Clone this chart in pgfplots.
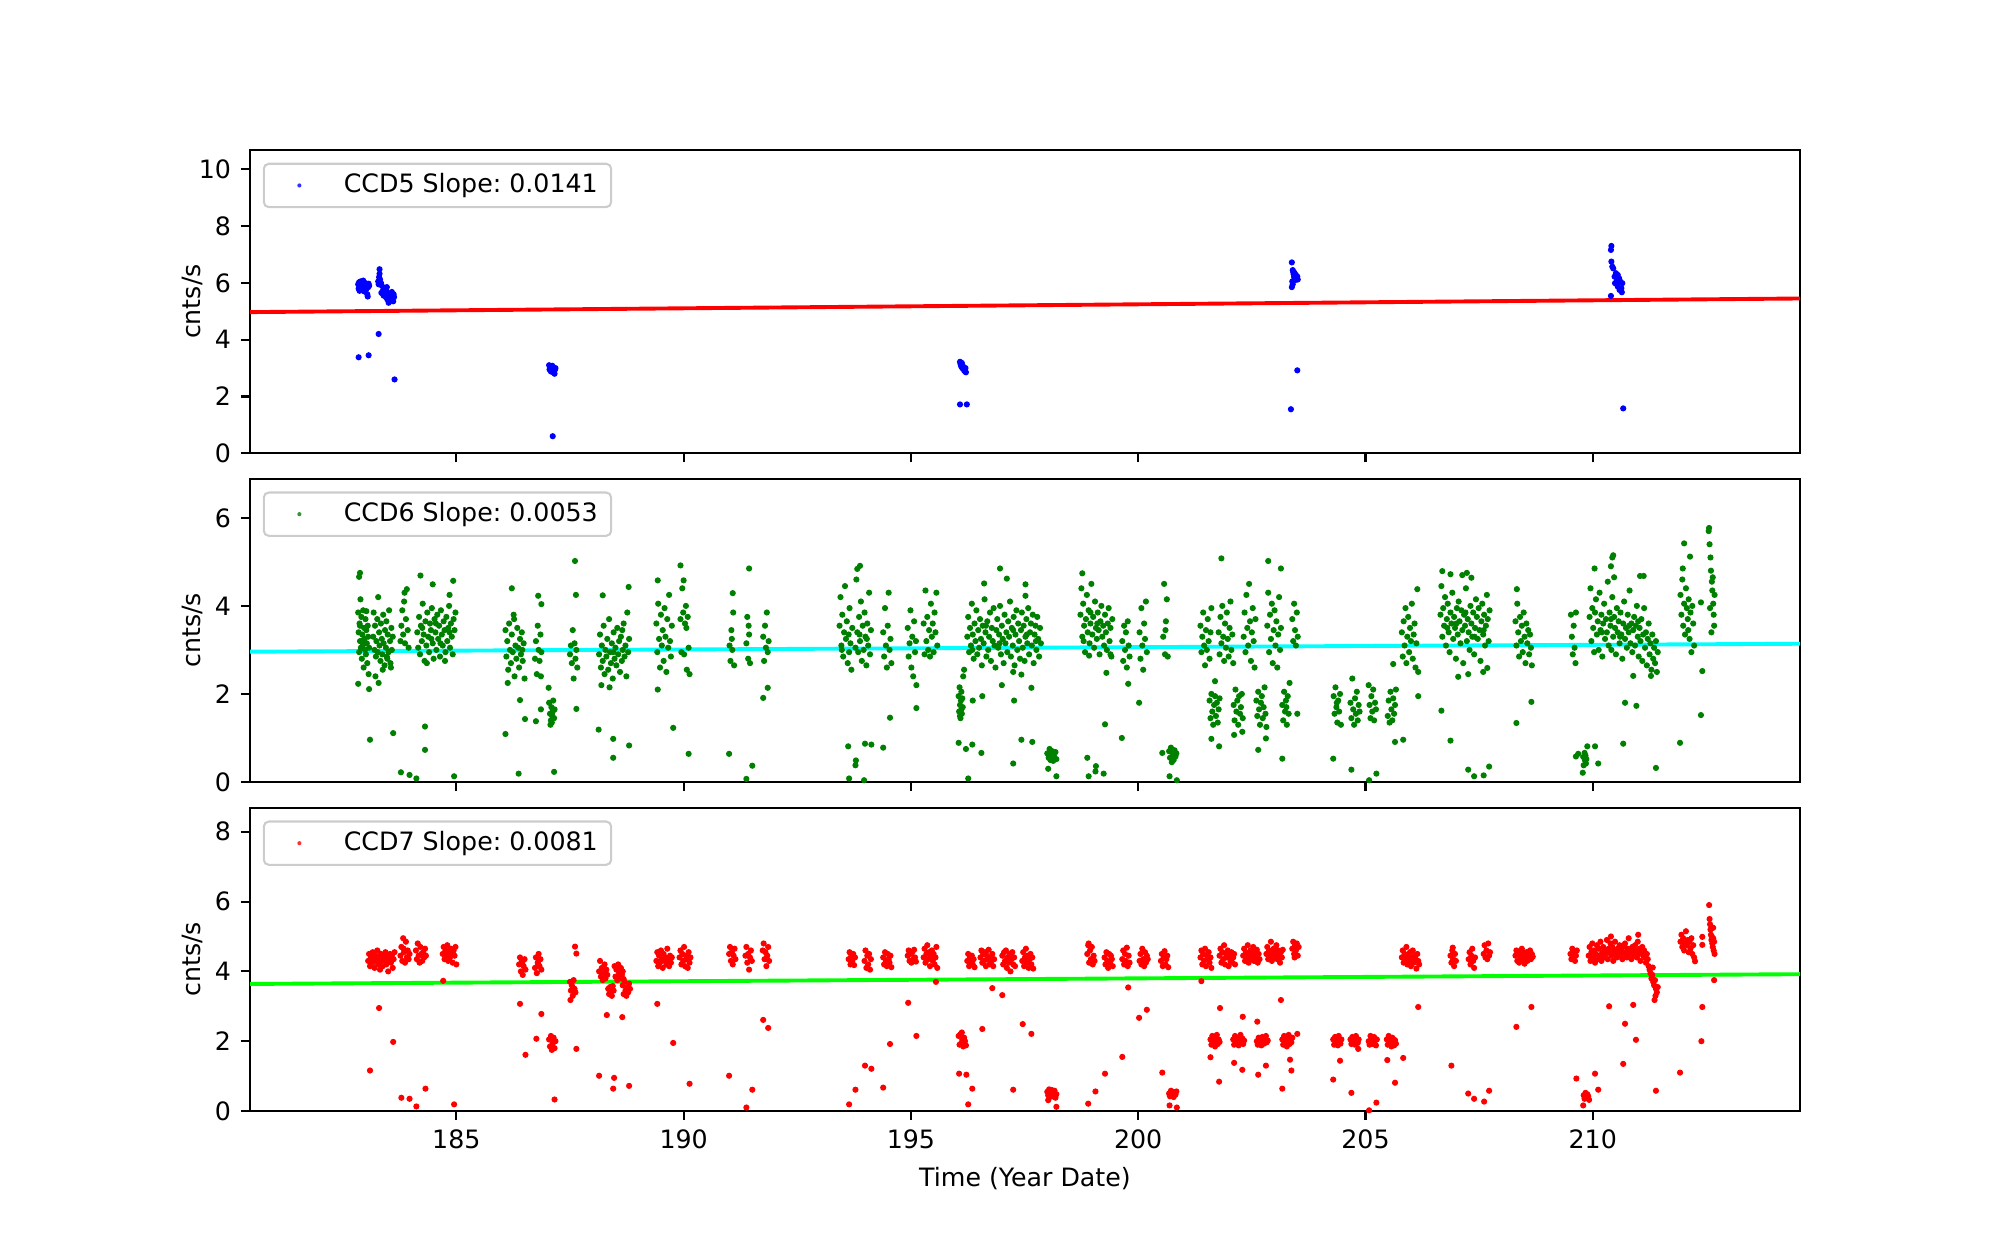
\documentclass[border=0pt]{standalone}
\usepackage{fontspec}
\setmainfont{DejaVu Sans}
\usepackage{pgfplots}
\pgfplotsset{compat=1.18}
\definecolor{mplgreen}{rgb}{0,0.5,0}
\definecolor{mplblue}{rgb}{0,0,1}
\definecolor{mplred}{rgb}{1,0,0}
\definecolor{mplcyan}{rgb}{0,1,1}
\definecolor{mpllime}{rgb}{0,1,0}
\definecolor{legedge}{rgb}{0.8,0.8,0.8}
\pgfplotsset{
  ccd/.style={
    scale only axis, width=558bp, height=109.19bp,
    xmin=180.46, xmax=214.56, ymin=0,
    xtick={185,190,195,200,205,210},
    tick align=outside, xtick pos=bottom, ytick pos=left,
    major tick length=3.3bp,
    every tick/.style={black, line width=0.75bp},
    axis line style={line width=0.75bp},
    ylabel={cnts/s},
    ylabel style={at={(axis description cs:-0.0368,0.5)}, anchor=center},
    /pgf/number format/assume math mode=true,
    tick label style={font=\fontsize{9.1bp}{11bp}\selectfont},
    label style={font=\fontsize{9.1bp}{11bp}\selectfont},
    legend style={at={(axis description cs:0,1)}, anchor=north west, xshift=4.6bp, yshift=-4.6bp,
      draw=legedge, line width=0.75bp, rounded corners=1.8bp, fill=white, fill opacity=0.8, text opacity=1,
      inner xsep=0pt, inner ysep=0pt, nodes={inner sep=0pt}, column sep=0pt,
      font=\fontsize{9.1bp}{11bp}\selectfont},
    legend image code/.code={\path[draw=none,fill=none] (0,-7.8bp) rectangle (28.8bp,7.8bp); \fill[draw=none] (12.8bp,0) circle (0.75bp);},
    legend cell align=left,
  },
  pts/.style={only marks, mark=*, mark size=0.9bp, mark options={draw=none}},
}
\begin{document}
\frenchspacing
\begin{tikzpicture}
\path[use as bounding box] (0,0) rectangle (720bp,449.28bp);
% ---------------- CCD5 ----------------
\begin{axis}[ccd, at={(90bp,286.1bp)}, anchor=south west, ymax=10.68, ytick={0,2,4,6,8,10}, xticklabels={}]
\addplot[pts, color=mplblue] coordinates {
(182.84,5.95)(182.85,5.80)(182.86,6.02)(182.87,5.72)(182.88,5.90)(182.89,6.05)(182.90,5.85)(182.91,5.98)(182.92,5.76)(182.93,5.92)(182.95,6.08)(182.96,5.83)(182.97,5.70)(182.98,5.95)(182.99,6.00)(183.00,5.88)(183.02,5.78)(183.03,5.93)(183.04,5.60)(183.05,5.52)(183.06,5.85)(183.07,5.97)(183.08,5.90)(182.85,3.38)(183.07,3.45)
(183.28,6.05)(183.29,5.95)(183.30,6.20)(183.31,6.48)(183.31,6.32)(183.32,6.12)(183.33,5.98)(183.34,6.00)(183.35,5.65)(183.36,5.90)(183.38,5.62)(183.39,5.75)(183.40,5.55)(183.42,5.70)(183.43,5.60)(183.45,5.50)(183.46,5.72)(183.47,5.85)(183.48,5.42)(183.50,5.58)(183.51,5.30)(183.52,5.48)(183.53,5.62)(183.55,5.38)(183.57,5.55)(183.58,5.68)(183.60,5.45)(183.61,5.35)(183.62,5.60)(183.63,5.50)(183.29,4.20)(183.64,2.60)
(187.04,3.10)(187.05,2.95)(187.07,3.05)(187.08,2.88)(187.09,3.00)(187.10,2.92)(187.11,3.08)(187.12,2.97)(187.13,2.85)(187.14,3.02)(187.15,2.90)(187.16,2.80)(187.17,2.95)(187.18,3.00)(187.12,0.60)
(196.08,3.22)(196.09,3.15)(196.10,3.10)(196.11,3.05)(196.12,3.18)(196.13,3.00)(196.14,3.08)(196.15,2.98)(196.16,3.02)(196.17,2.92)(196.18,2.95)(196.19,2.88)(196.20,3.00)(196.21,2.85)(196.08,1.72)(196.23,1.72)
(203.38,6.72)(203.40,6.45)(203.41,6.38)(203.42,6.30)(203.43,6.20)(203.44,6.35)(203.45,6.25)(203.46,6.10)(203.47,6.28)(203.48,6.15)(203.39,6.05)(203.40,5.95)(203.38,5.85)(203.50,6.22)(203.51,6.12)(203.50,2.92)(203.36,1.55)
(210.41,7.30)(210.40,7.16)(210.41,6.75)(210.43,6.57)(210.45,6.51)(210.51,6.34)(210.55,6.28)(210.48,6.22)(210.58,6.16)(210.53,6.10)(210.61,6.04)(210.49,5.99)(210.65,5.99)(210.55,5.87)(210.63,5.81)(210.59,5.75)(210.64,5.67)(210.40,5.54)(210.67,1.58)
};
\addlegendentry{CCD5 Slope: 0.0141\kern4.8bp}
\addplot[mplred, line width=1.4bp, forget plot] coordinates {(180.46,4.97) (214.56,5.45)};
\end{axis}
% ---------------- CCD6 ----------------
\begin{axis}[ccd, at={(90bp,167.76bp)}, anchor=south west, ymax=6.89, ytick={0,2,4,6}, xticklabels={}]
\addplot[pts, color=mplgreen] coordinates {
(182.84,3.85)(182.85,3.40)(182.86,2.95)(182.87,3.60)(182.88,3.20)(182.89,4.15)(182.90,3.05)(182.91,3.75)(182.92,2.80)(182.93,3.35)(182.94,3.10)(182.95,3.90)(182.96,2.60)(182.97,3.50)(182.98,3.25)(182.99,3.00)(183.00,3.70)(183.01,2.90)(183.02,3.45)(183.03,3.15)(183.04,2.70)(183.05,3.55)(183.06,3.30)(183.07,2.45)(183.08,3.05)(182.88,3.55)(182.95,3.22)(183.02,3.88)
(182.84,2.23)(183.08,2.11)(183.10,0.96)(182.86,4.66)(182.88,4.75)
(183.17,3.30)(183.18,3.85)(183.20,3.00)(183.21,3.55)(183.23,2.85)(183.24,3.20)(183.26,3.70)(183.27,2.95)(183.28,4.20)(183.30,3.40)(183.31,3.10)(183.33,2.75)(183.34,3.60)(183.36,3.25)(183.37,2.90)(183.39,3.80)(183.40,3.15)(183.42,2.65)(183.43,3.45)(183.45,3.05)(183.46,3.65)(183.48,2.80)(183.49,3.35)(183.51,2.95)(183.52,3.90)(183.54,3.20)(183.55,2.70)(183.57,3.50)(183.58,3.00)(183.60,3.30)(183.22,2.40)(183.29,2.25)(183.38,2.55)(183.47,2.85)(183.56,2.60)(183.61,1.11)
(183.77,3.20)(183.79,3.55)(183.81,3.90)(183.83,3.35)(183.85,4.10)(183.87,3.15)(183.89,3.70)(183.91,4.38)(183.93,3.45)(183.95,3.05)(183.86,4.30)
(184.14,3.40)(184.16,3.05)(184.18,3.75)(184.20,2.90)(184.22,3.55)(184.24,3.20)(184.26,4.05)(184.28,3.35)(184.30,2.75)(184.32,3.65)(184.34,3.10)(184.36,3.85)(184.38,3.30)(184.40,2.95)(184.42,3.60)(184.44,3.45)(184.46,3.95)(184.48,3.15)(184.50,2.80)(184.52,3.70)(184.54,3.40)(184.56,3.00)(184.58,3.80)(184.60,3.25)(184.62,3.55)(184.64,2.85)(184.66,3.90)(184.68,3.35)(184.70,3.10)(184.72,3.65)(184.74,3.45)(184.76,2.95)(184.78,3.75)(184.80,3.20)(184.82,3.50)(184.84,4.00)(184.86,3.05)(184.88,3.60)(184.90,3.30)(184.92,2.90)(184.94,3.70)(184.96,3.45)(184.98,3.85)(184.25,3.50)(184.45,3.25)(184.65,3.15)(184.85,3.40)(184.55,3.60)(184.35,2.70)(184.75,2.75)
(184.21,4.69)(184.48,4.49)(184.85,4.25)(184.93,4.57)(184.31,1.26)(184.31,0.73)(183.78,0.22)(183.97,0.16)(184.12,0.08)(184.95,0.13)
(186.08,3.45)(186.10,2.85)(186.12,3.20)(186.14,2.55)(186.16,3.60)(186.18,3.00)(186.20,2.70)(186.22,3.35)(186.24,2.95)(186.26,3.80)(186.28,2.40)(186.30,3.10)(186.32,2.80)(186.34,3.50)(186.36,3.05)(186.38,2.60)(186.40,3.25)(186.42,2.90)(186.44,3.40)(186.46,2.75)(186.48,3.15)(186.50,2.35)(186.13,2.25)(186.27,3.70)(186.45,3.00)
(186.22,4.40)(186.40,1.86)(186.51,1.43)(186.08,1.09)(186.37,0.19)
(186.73,2.80)(186.75,3.20)(186.77,2.45)(186.79,3.55)(186.81,3.00)(186.83,2.75)(186.85,3.35)(186.87,2.95)(186.80,4.23)(186.87,4.04)(186.86,2.40)
(187.04,1.80)(187.06,1.55)(187.08,1.40)(187.09,1.70)(187.10,1.35)(187.12,1.60)(187.13,1.85)(187.15,1.45)(187.16,1.65)(187.11,1.50)(187.07,1.30)
(187.03,2.14)(186.86,1.65)(186.75,1.38)(187.15,0.23)
(187.50,2.90)(187.52,3.10)(187.54,2.70)(187.56,3.45)(187.58,2.35)(187.60,3.15)(187.62,2.80)(187.64,3.00)(187.66,2.60)(187.61,5.02)(187.63,4.25)(187.64,1.66)
(188.14,2.90)(188.16,3.35)(188.18,2.60)(188.20,3.10)(188.22,2.75)(188.24,3.55)(188.26,2.45)(188.28,3.00)(188.30,2.85)(188.32,3.25)(188.34,2.55)(188.36,3.70)(188.38,2.95)(188.40,2.70)(188.42,3.15)(188.44,2.35)(188.46,3.40)(188.48,2.80)(188.50,3.05)(188.52,2.65)(188.54,3.50)(188.56,2.90)(188.58,3.20)(188.60,2.50)(188.62,3.30)(188.64,2.75)(188.66,3.00)(188.68,3.60)(188.70,2.85)(188.72,3.10)(188.74,2.40)(188.76,3.85)(188.78,2.95)(188.80,3.25)(188.19,2.20)(188.45,2.95)(188.65,3.45)
(188.22,4.24)(188.79,4.43)(188.13,1.19)(188.45,0.98)(188.45,0.55)(188.80,0.83)(188.37,2.15)
(189.40,3.60)(189.42,2.95)(189.44,4.05)(189.46,3.25)(189.48,2.60)(189.50,3.80)(189.52,3.10)(189.54,3.45)(189.56,2.75)(189.58,3.95)(189.60,3.30)(189.62,2.50)(189.64,3.70)(189.66,3.05)(189.68,4.25)(189.70,3.20)(189.72,2.85)(189.74,3.55)(189.43,4.58)(189.43,2.10)(189.77,1.23)
(189.93,3.70)(189.95,2.95)(189.97,4.40)(189.99,3.85)(190.01,2.90)(190.03,3.60)(190.05,4.00)(190.07,2.55)(190.09,3.75)(190.11,3.05)(190.13,2.45)(190.00,4.58)(190.06,3.50)(189.93,4.92)(190.11,0.64)
(191.01,3.10)(191.03,2.75)(191.05,3.45)(191.07,3.00)(191.09,3.85)(191.11,2.65)(191.06,3.25)(191.08,4.29)(191.00,0.64)
(191.38,3.15)(191.40,3.75)(191.42,2.80)(191.44,3.35)(191.46,2.70)(191.43,3.55)(191.44,4.85)(191.38,0.07)(191.51,0.37)
(191.75,3.30)(191.77,2.75)(191.79,3.55)(191.81,3.05)(191.83,3.85)(191.85,2.95)(191.87,3.20)(191.75,1.91)(191.85,2.14)
(193.43,3.55)(193.45,4.20)(193.47,3.10)(193.49,3.80)(193.51,2.85)(193.53,3.40)(193.55,4.45)(193.57,3.25)(193.59,3.65)(193.61,2.70)(193.63,3.35)(193.65,3.95)(193.67,3.15)(193.69,2.55)(193.71,3.50)(193.78,3.05)(193.80,4.60)(193.82,3.40)(193.84,2.95)(193.86,3.75)(193.88,3.20)(193.90,4.10)(193.92,2.75)(193.94,3.55)(193.96,3.00)(193.98,3.85)(194.00,3.30)(194.02,2.65)(194.04,3.60)(194.06,3.10)(194.08,4.30)(194.10,2.90)(194.12,3.45)(193.48,3.00)(193.64,2.95)(193.87,3.35)(194.03,3.25)
(193.82,4.84)(193.88,4.91)(193.62,0.81)(193.79,0.49)(193.78,0.38)(193.99,0.87)(194.13,0.85)(193.64,0.08)(193.97,0.04)(194.39,0.78)
(194.39,3.40)(194.41,2.85)(194.43,3.95)(194.45,3.10)(194.47,2.60)(194.49,3.55)(194.51,4.30)(194.53,3.00)(194.55,3.25)(194.57,2.70)(194.54,1.46)
(194.93,3.50)(194.95,2.85)(194.97,3.15)(194.99,3.90)(195.01,2.60)(195.03,3.30)(195.05,2.40)(195.07,3.65)(195.09,2.95)(195.11,3.20)(195.12,2.20)(195.12,1.68)
(195.28,3.60)(195.30,2.90)(195.32,4.35)(195.34,3.20)(195.36,3.75)(195.38,3.00)(195.40,3.45)(195.42,2.85)(195.44,4.05)(195.46,3.30)(195.48,3.60)(195.50,2.95)(195.52,3.85)(195.54,3.40)(195.56,4.30)(195.58,3.10)
(196.05,1.95)(196.06,1.60)(196.07,2.15)(196.08,1.75)(196.09,1.45)(196.10,1.85)(196.11,2.05)(196.12,1.55)(196.13,1.90)(196.14,1.70)(196.15,2.40)(196.17,2.55)(196.08,1.50)(196.11,1.65)
(196.05,0.89)(196.21,0.75)(196.35,0.85)(196.26,0.08)(196.55,0.66)(196.36,1.85)(196.57,1.95)
(196.24,3.30)(196.26,3.75)(196.28,2.95)(196.30,3.50)(196.32,3.10)(196.34,4.05)(196.36,3.35)(196.38,2.80)(196.40,3.60)(196.42,3.20)(196.44,3.90)(196.46,2.90)(196.48,3.45)(196.50,3.05)(196.52,3.70)(196.54,3.25)(196.56,2.65)(196.58,3.55)(196.60,3.15)(196.62,4.15)(196.64,3.40)(196.66,2.85)(196.68,3.65)(196.70,3.00)(196.72,3.30)(196.74,3.85)(196.76,2.75)(196.78,3.50)(196.80,3.20)(196.82,3.95)(196.84,3.10)(196.86,2.60)(196.88,3.45)(196.90,3.70)(196.92,3.05)(196.94,3.35)(196.96,4.00)(196.98,2.90)(197.00,3.55)(197.02,3.25)(197.04,2.70)(197.06,3.80)(197.08,3.15)(197.10,3.40)(197.12,2.95)(197.14,3.65)(197.16,3.30)(197.18,4.10)(197.20,2.85)(197.22,3.50)(197.24,3.10)(197.26,3.75)(197.28,2.65)(197.30,3.35)(197.32,3.90)(197.34,3.00)(197.36,3.60)(197.38,3.20)(197.40,2.80)(197.42,3.45)(197.44,3.85)(197.46,3.05)(197.48,3.55)(197.50,2.75)(197.52,3.30)(197.54,3.70)(197.56,3.15)(197.58,3.95)(197.60,2.90)(197.62,3.40)(197.64,3.60)(197.66,3.10)(197.68,3.80)(197.70,2.70)(197.72,3.35)(197.74,3.55)(197.76,3.00)(197.78,3.75)(197.80,3.25)(197.82,2.85)(197.84,3.50)(197.86,3.15)(196.35,3.00)(196.65,3.55)(196.95,3.15)(197.25,3.45)(197.55,3.35)(197.75,3.20)
(196.96,4.85)(197.11,4.62)(196.61,4.51)(197.52,4.49)(197.52,4.23)(197.00,2.20)(197.25,2.50)(197.43,2.44)(197.27,1.85)(197.65,2.14)(197.43,0.96)(197.67,0.91)(197.25,0.42)
(198.00,0.65)(198.03,0.55)(198.05,0.75)(198.07,0.50)(198.09,0.62)(198.11,0.70)(198.13,0.48)(198.15,0.58)(198.18,0.68)(198.20,0.52)(198.02,0.30)(198.20,0.13)
(198.73,3.80)(198.75,4.40)(198.77,3.30)(198.79,4.05)(198.81,3.55)(198.83,2.95)(198.85,3.70)(198.87,4.25)(198.89,3.40)(198.91,3.90)(198.93,3.15)(198.95,3.60)(198.97,4.50)(198.99,3.35)(199.01,3.75)(199.03,3.05)(199.05,4.10)(199.07,3.50)(199.09,3.25)(199.11,3.85)(199.13,3.45)(199.15,2.90)(199.17,3.65)(199.19,4.00)(199.21,3.30)(199.23,3.55)(199.25,3.10)(199.27,3.80)(199.29,3.40)(199.31,3.00)(199.33,3.60)(199.35,3.95)(199.37,3.20)(199.39,3.50)(199.41,2.85)(199.43,3.70)(198.80,3.20)(198.95,3.85)(199.10,3.60)
(198.77,4.74)(198.92,2.87)(199.39,2.90)(199.30,2.48)(199.27,1.31)(198.88,0.55)(198.91,0.13)(199.07,0.36)(199.24,0.19)(199.06,0.24)
(199.65,3.20)(199.67,2.75)(199.69,3.55)(199.71,3.00)(199.73,3.40)(199.75,2.60)(199.77,3.65)(199.79,3.10)(199.81,2.85)(199.78,2.23)(199.64,1.00)
(200.03,3.40)(200.05,2.80)(200.07,3.95)(200.09,3.10)(200.11,2.55)(200.13,3.60)(200.15,3.25)(200.17,4.10)(200.19,2.95)(200.02,1.80)
(200.55,3.30)(200.57,4.50)(200.59,2.90)(200.61,3.65)(200.63,4.15)(200.65,2.85)(200.60,3.45)
(200.68,0.70)(200.70,0.55)(200.72,0.78)(200.74,0.45)(200.76,0.62)(200.78,0.50)(200.80,0.72)(200.82,0.58)(200.84,0.65)(200.53,0.66)(200.69,0.13)(200.85,0.04)
(201.37,3.55)(201.39,2.95)(201.41,3.30)(201.43,3.85)(201.45,3.10)(201.47,2.65)(201.49,3.45)(201.51,3.00)(201.53,3.70)(201.55,3.20)(201.57,2.80)(201.59,3.40)(201.61,3.95)
(201.57,1.85)(201.59,1.45)(201.61,2.00)(201.63,1.60)(201.65,1.30)(201.67,1.75)(201.69,1.95)(201.71,1.50)(201.73,1.80)(201.75,1.35)(201.77,1.65)(201.79,1.90)(201.69,2.29)(201.61,0.98)(201.78,0.81)
(201.77,3.40)(201.79,2.90)(201.81,3.75)(201.83,3.15)(201.85,4.00)(201.87,3.30)(201.89,2.75)(201.91,3.60)(201.93,3.05)(201.95,3.85)(201.97,3.25)(201.99,2.85)(202.01,3.50)(202.03,4.10)(202.05,3.00)(202.07,3.35)(202.09,2.70)(201.83,5.08)
(202.10,1.75)(202.12,1.40)(202.14,2.10)(202.16,1.60)(202.18,1.85)(202.20,1.30)(202.22,1.95)(202.24,1.55)(202.26,1.70)(202.28,2.00)(202.30,1.45)(202.11,1.07)(202.29,1.14)
(202.32,3.30)(202.34,3.85)(202.36,2.95)(202.38,4.25)(202.40,3.50)(202.42,3.10)(202.44,4.50)(202.46,3.65)(202.48,2.75)(202.50,3.40)(202.52,3.95)(202.54,3.20)(202.56,2.60)(202.58,3.70)
(202.60,1.85)(202.62,1.50)(202.64,2.05)(202.66,1.65)(202.68,1.30)(202.70,1.80)(202.72,1.95)(202.74,1.45)(202.76,1.70)(202.78,2.15)(202.80,1.55)(202.82,1.25)(202.64,0.73)(202.81,0.99)
(202.84,3.55)(202.86,4.30)(202.88,2.95)(202.90,3.80)(202.92,3.25)(202.94,4.05)(202.96,2.70)(202.98,3.45)(203.00,3.90)(203.02,3.10)(203.04,3.65)(203.06,2.60)(203.08,3.35)(203.10,4.20)(203.12,3.00)(203.14,3.50)(202.86,5.02)(203.14,4.85)
(203.17,1.75)(203.19,1.40)(203.21,2.05)(203.23,1.60)(203.25,1.85)(203.27,1.30)(203.29,1.95)(203.31,1.55)(203.33,2.25)(203.26,1.70)(203.17,0.53)
(203.39,3.70)(203.41,3.20)(203.43,4.05)(203.45,3.45)(203.47,3.10)(203.49,3.85)(203.51,3.30)(203.50,1.55)
(204.30,1.95)(204.32,1.55)(204.34,2.15)(204.36,1.70)(204.38,1.35)(204.40,1.85)(204.42,1.60)(204.44,2.00)(204.46,1.30)(204.37,1.80)(204.29,0.53)
(204.67,1.80)(204.69,1.45)(204.71,2.35)(204.73,1.65)(204.75,1.30)(204.77,1.90)(204.79,1.55)(204.81,2.05)(204.83,1.40)(204.85,1.75)(204.87,1.60)(204.69,0.28)
(205.07,2.20)(205.09,1.75)(205.11,1.45)(205.13,1.95)(205.15,1.60)(205.17,2.10)(205.19,1.40)(205.21,1.80)(205.23,1.65)(205.08,0.04)(205.24,0.19)
(205.49,1.50)(205.51,1.85)(205.53,1.35)(205.55,2.05)(205.57,1.65)(205.59,1.40)(205.61,1.90)(205.63,1.55)(205.65,1.75)(205.67,2.10)(205.65,0.91)(205.83,0.96)
(205.80,3.40)(205.82,2.85)(205.84,3.65)(205.86,3.10)(205.88,3.95)(205.90,2.70)(205.92,3.30)(205.94,3.75)(205.96,2.95)(205.98,3.50)(206.00,3.20)(206.02,4.05)(206.04,2.80)(206.06,3.35)(206.08,3.60)(206.10,2.60)(206.12,3.15)(206.14,4.38)(206.16,2.50)(205.61,2.68)(206.16,1.95)
(206.65,3.80)(206.67,4.45)(206.69,3.30)(206.71,3.95)(206.73,3.55)(206.75,4.20)(206.77,3.10)(206.79,3.70)(206.81,4.05)(206.83,3.40)(206.85,2.95)(206.87,3.85)(206.89,3.60)(206.91,4.30)(206.93,3.25)(206.95,3.75)(206.97,3.50)(206.99,2.80)(207.01,3.95)(207.03,3.35)(207.05,4.10)(207.07,3.65)(207.09,3.15)(207.11,3.90)(207.13,3.45)(207.15,2.70)(207.17,3.80)(207.19,3.55)(207.21,4.40)(207.23,3.20)(207.25,3.70)(207.27,3.40)(207.29,3.00)(207.31,4.00)(207.33,3.60)(207.35,3.30)(207.37,3.85)(207.39,2.90)(207.41,3.50)(207.43,4.15)(207.45,3.75)(207.47,3.25)(207.49,3.95)(207.51,3.45)(207.53,2.75)(207.55,3.65)(207.57,4.05)(207.59,3.35)(207.61,3.80)(207.63,3.10)(207.65,3.55)(207.67,4.25)(207.69,3.70)(207.71,3.20)(207.73,3.90)(206.80,3.50)(207.00,3.60)(207.20,3.85)(207.40,3.30)(207.60,3.45)
(206.69,4.79)(206.87,4.72)(207.13,4.70)(207.23,4.75)(207.33,4.64)(206.67,1.62)(206.87,0.94)(207.26,0.28)(207.39,0.13)(207.60,0.15)(207.72,0.35)(207.04,2.39)(207.26,2.45)(207.59,2.50)(207.68,2.59)
(208.30,3.65)(208.32,3.10)(208.34,4.05)(208.36,3.40)(208.38,2.85)(208.40,3.75)(208.42,3.20)(208.44,3.55)(208.46,2.95)(208.48,3.85)(208.50,3.30)(208.52,2.70)(208.54,3.60)(208.56,3.15)(208.58,3.45)(208.60,2.90)(208.62,3.35)(208.64,3.05)(208.66,2.65)(208.33,4.38)(208.32,1.34)(208.65,1.82)
(209.52,3.80)(209.54,3.30)(209.56,2.90)(209.58,3.55)(209.60,3.05)(209.62,2.70)(209.63,3.85)
(209.68,0.64)(209.79,0.57)(209.85,0.42)(209.88,0.81)(210.05,0.81)(209.78,0.21)(210.12,0.42)(209.63,0.58)(209.83,0.49)(209.82,0.66)(209.86,0.52)(209.80,0.38)(209.84,0.60)
(209.93,3.75)(209.95,4.40)(209.97,3.20)(209.99,3.95)(210.01,3.50)(210.03,2.95)(210.05,3.85)(210.07,4.15)(210.09,3.35)(210.11,3.65)(210.13,3.00)(210.15,4.30)(210.17,3.45)(210.19,3.80)(210.21,2.85)(210.23,3.60)(210.25,4.05)(210.27,3.25)(210.29,3.70)(210.31,3.40)(210.33,4.55)(210.35,3.10)(210.37,3.85)(210.39,3.55)(210.41,3.00)(210.43,4.20)(210.45,3.30)(210.47,3.75)(210.49,3.50)(210.51,2.90)(210.53,3.95)(210.55,3.40)(210.57,3.65)(210.59,3.15)(210.61,3.85)(210.63,3.35)(210.65,2.80)(210.67,3.60)(210.69,4.10)(210.71,3.25)(210.73,3.50)(210.75,3.05)(210.77,3.80)(210.79,3.40)(210.81,4.35)(210.83,3.15)(210.85,3.60)(210.87,2.95)(210.89,3.45)(210.91,3.75)(210.93,3.10)(210.95,3.55)(210.97,4.00)(210.99,3.30)(211.01,2.85)(211.03,3.50)(211.05,3.20)(211.07,3.70)(211.09,2.75)(211.11,3.35)(211.13,3.95)(211.15,3.05)(211.17,3.40)(211.19,2.65)(211.21,3.25)(211.23,3.60)(211.25,2.90)(211.27,3.15)(211.29,2.55)(211.31,3.35)(211.33,2.80)(211.35,3.05)(211.37,2.70)(211.39,3.20)(211.41,2.50)(211.43,2.95)(210.20,3.40)(210.40,3.70)(210.60,3.30)(210.80,3.55)(211.00,3.65)
(210.45,5.15)(210.43,5.10)(210.04,4.85)(211.04,4.68)(211.12,4.68)(210.40,4.90)(210.47,4.65)(210.71,1.80)(210.96,1.73)(210.67,0.87)(211.39,0.32)(210.89,2.41)(211.28,2.41)
(211.93,4.25)(211.95,3.80)(211.97,4.60)(211.99,3.55)(212.01,4.05)(212.03,3.35)(212.05,4.40)(212.07,3.95)(212.09,3.70)(212.11,4.15)(212.13,3.25)(212.15,3.85)(212.17,2.95)(212.19,4.00)(212.21,3.60)(212.23,3.10)(211.98,4.85)(212.10,3.45)
(212.01,5.42)(212.14,5.12)(212.41,2.52)(212.38,1.52)(211.92,0.89)
(212.55,5.70)(212.56,5.77)(212.57,5.40)(212.59,5.10)(212.60,4.80)(212.62,4.55)(212.63,4.35)(212.64,4.65)(212.65,4.05)(212.66,3.80)(212.67,3.55)(212.68,4.25)(212.58,3.95)(212.61,3.40)(212.38,4.08)
};
\addlegendentry{CCD6 Slope: 0.0053\kern4.8bp}
\addplot[mplcyan, line width=1.4bp, forget plot] coordinates {(180.46,2.96) (214.56,3.14)};
\end{axis}
% ---------------- CCD7 ----------------
\begin{axis}[ccd, at={(90bp,49.32bp)}, anchor=south west, ymax=8.69, ytick={0,2,4,6,8},
  xlabel={Time (Year Date)}, xlabel style={at={(axis description cs:0.5,0)}, anchor=center, yshift=-24.3bp}]
\addplot[pts, color=mplred] coordinates {
(183.06,4.30)(183.08,4.50)(183.10,4.15)(183.12,4.40)(183.14,4.25)(183.16,4.55)(183.18,4.35)(183.20,4.10)(183.22,4.45)(183.24,4.30)(183.26,4.60)(183.28,4.20)(183.30,4.40)(183.32,4.05)(183.34,4.50)(183.36,4.30)(183.38,4.15)(183.40,4.45)(183.42,4.35)(183.44,4.55)(183.46,4.20)(183.48,4.40)(183.50,4.00)(183.52,4.30)(183.54,4.50)(183.56,4.25)(183.58,4.45)(183.60,4.10)(183.62,4.35)(183.64,4.55)(183.15,4.25)(183.35,4.40)(183.55,4.35)
(183.77,4.45)(183.79,4.70)(183.81,4.30)(183.83,4.95)(183.85,4.55)(183.87,4.25)(183.89,4.85)(183.91,4.40)(183.93,4.60)(183.95,4.35)(183.97,4.50)(183.84,4.65)
(184.11,4.60)(184.13,4.35)(184.15,4.80)(184.17,4.45)(184.19,4.25)(184.21,4.70)(184.23,4.50)(184.25,4.30)(184.27,4.55)(184.29,4.40)(184.31,4.65)(184.33,4.45)
(184.70,4.50)(184.72,4.70)(184.74,4.35)(184.76,4.60)(184.78,4.45)(184.80,4.75)(184.82,4.30)(184.84,4.55)(184.86,4.40)(184.88,4.65)(184.90,4.50)(184.92,4.25)(184.94,4.60)(184.96,4.45)(184.98,4.70)(185.00,4.20)(184.85,4.55)
(183.10,1.16)(183.30,2.95)(183.61,1.98)(183.79,0.38)(183.97,0.35)(184.12,0.13)(184.32,0.64)(184.71,3.73)(184.95,0.19)
(186.38,4.20)(186.40,4.40)(186.42,4.00)(186.44,4.30)(186.46,3.90)(186.48,4.15)(186.50,4.35)(186.52,4.05)(186.45,4.25)
(186.73,4.10)(186.75,4.40)(186.77,3.95)(186.79,4.25)(186.81,4.50)(186.83,4.15)(186.85,4.35)(186.87,4.05)(186.80,4.20)
(186.40,3.07)(186.52,1.61)(186.76,2.07)(186.87,2.78)(187.16,0.33)
(187.04,2.05)(187.06,1.85)(187.08,2.15)(187.10,1.75)(187.12,1.95)(187.14,2.10)(187.16,1.80)(187.18,2.00)(187.11,1.90)
(187.50,3.70)(187.52,3.45)(187.54,3.60)(187.56,3.30)(187.58,3.75)(187.60,3.50)(187.62,3.40)(187.51,3.18)(187.61,4.71)(187.64,4.51)(187.64,1.78)
(188.14,4.00)(188.16,4.30)(188.18,3.85)(188.20,4.10)(188.22,3.75)(188.24,3.95)(188.26,4.20)(188.28,3.80)(188.30,4.05)(188.32,3.90)
(188.34,3.50)(188.36,3.35)(188.38,3.55)(188.40,3.40)(188.42,3.30)(188.44,3.58)(188.46,3.45)
(188.48,4.15)(188.50,3.85)(188.52,4.05)(188.54,3.75)(188.56,4.20)(188.58,3.95)(188.60,3.80)(188.62,4.10)(188.64,3.90)(188.66,4.00)(188.68,3.78)
(188.66,3.60)(188.68,3.35)(188.70,3.70)(188.72,3.45)(188.74,3.30)(188.76,3.55)(188.78,3.40)(188.80,3.65)(188.82,3.50)
(188.14,1.01)(188.31,2.75)(188.47,0.95)(188.45,0.64)(188.65,2.69)(188.80,0.72)
(189.40,4.30)(189.42,4.55)(189.44,4.15)(189.46,4.45)(189.48,4.25)(189.50,4.60)(189.52,4.35)(189.54,4.10)(189.56,4.50)(189.58,4.30)(189.60,4.40)(189.62,4.20)(189.64,4.65)(189.66,4.35)(189.68,4.15)(189.70,4.45)(189.72,4.25)(189.74,4.40)
(189.91,4.40)(189.93,4.60)(189.95,4.20)(189.97,4.50)(189.99,4.30)(190.01,4.70)(190.03,4.15)(190.05,4.45)(190.07,4.35)(190.09,4.10)(190.11,4.55)(190.13,4.25)(190.15,4.40)
(189.42,3.07)(189.77,1.95)(190.13,0.78)
(191.00,4.50)(191.02,4.70)(191.04,4.30)(191.06,4.55)(191.08,4.20)(191.10,4.45)(191.12,4.65)(191.14,4.35)
(191.36,4.45)(191.38,4.70)(191.40,4.25)(191.42,4.50)(191.44,4.05)(191.46,4.40)(191.48,4.60)(191.50,4.30)
(191.74,4.60)(191.76,4.80)(191.78,4.35)(191.80,4.55)(191.82,4.15)(191.84,4.45)(191.86,4.70)(191.88,4.30)
(191.00,1.01)(191.38,0.10)(191.51,0.61)(191.75,2.61)(191.86,2.38)
(193.63,4.35)(193.65,4.55)(193.67,4.20)(193.69,4.45)(193.71,4.30)(193.73,4.50)(193.75,4.18)(193.77,4.40)
(193.98,4.30)(194.00,4.60)(194.02,4.10)(194.04,4.45)(194.06,4.20)(194.08,4.50)(194.10,4.05)(194.12,4.35)
(194.39,4.40)(194.41,4.20)(194.43,4.55)(194.45,4.30)(194.47,4.15)(194.49,4.50)(194.51,4.35)(194.53,4.25)(194.55,4.45)(194.57,4.12)
(194.93,4.45)(194.95,4.60)(194.97,4.30)(194.99,4.50)(195.01,4.25)(195.03,4.55)(195.05,4.35)(195.07,4.62)(195.09,4.40)(195.11,4.28)
(195.28,4.40)(195.30,4.65)(195.32,4.25)(195.34,4.50)(195.36,4.75)(195.38,4.35)(195.40,4.55)(195.42,4.15)(195.44,4.45)(195.46,4.60)(195.48,4.30)(195.50,4.50)(195.52,4.20)(195.54,4.40)(195.56,4.70)(195.58,4.10)
(193.64,0.19)(193.78,0.61)(193.99,1.30)(194.13,1.21)(194.39,0.67)(194.54,1.92)(194.94,3.10)(195.12,2.15)(195.55,3.70)
(196.05,2.15)(196.07,1.90)(196.09,2.20)(196.11,1.95)(196.13,2.05)(196.15,1.85)(196.17,2.10)(196.19,2.00)(196.21,1.88)(196.12,2.25)
(196.06,1.07)(196.22,1.04)(196.35,0.64)(196.26,0.19)(196.57,2.35)(196.79,3.52)(197.01,3.32)(197.25,0.61)(197.46,2.49)(197.65,2.21)
(196.24,4.30)(196.26,4.50)(196.28,4.15)(196.30,4.40)(196.32,4.25)(196.34,4.45)(196.36,4.20)(196.38,4.35)(196.40,4.12)
(196.53,4.40)(196.55,4.60)(196.57,4.25)(196.59,4.50)(196.61,4.30)(196.63,4.55)(196.65,4.15)(196.67,4.45)(196.69,4.35)(196.71,4.62)(196.73,4.20)(196.75,4.40)(196.77,4.30)(196.79,4.50)(196.81,4.15)(196.83,4.35)
(197.01,4.45)(197.03,4.20)(197.05,4.55)(197.07,4.30)(197.09,4.60)(197.11,4.10)(197.13,4.40)(197.15,4.25)(197.17,4.50)(197.19,4.00)(197.21,4.35)(197.23,4.55)(197.25,4.20)(197.27,4.40)(197.29,4.15)
(197.45,4.30)(197.47,4.55)(197.49,4.15)(197.51,4.40)(197.53,4.65)(197.55,4.25)(197.57,4.45)(197.59,4.10)(197.61,4.35)(197.63,4.50)(197.65,4.20)(197.67,4.40)(197.69,4.08)
(198.00,0.55)(198.02,0.45)(198.04,0.62)(198.06,0.40)(198.08,0.52)(198.10,0.60)(198.12,0.42)(198.14,0.50)(198.16,0.58)(198.18,0.38)(198.20,0.48)(198.02,0.31)(198.20,0.12)
(198.88,4.50)(198.90,4.75)(198.92,4.25)(198.94,4.60)(198.96,4.35)(198.98,4.70)(199.00,4.20)(199.02,4.45)(199.04,4.30)(198.91,4.80)
(199.26,4.40)(199.28,4.20)(199.30,4.55)(199.32,4.30)(199.34,4.10)(199.36,4.50)(199.38,4.25)(199.40,4.45)(199.42,4.35)(199.44,4.15)
(199.65,4.35)(199.67,4.60)(199.69,4.20)(199.71,4.50)(199.73,4.30)(199.75,4.68)(199.77,4.15)(199.79,4.45)(199.81,4.25)
(200.03,4.30)(200.05,4.50)(200.07,4.20)(200.09,4.65)(200.11,4.35)(200.13,4.15)(200.15,4.55)(200.17,4.25)(200.19,4.45)(200.21,4.35)
(200.50,4.30)(200.52,4.50)(200.54,4.15)(200.56,4.40)(200.58,4.58)(200.60,4.20)(200.62,4.35)(200.64,4.45)(200.66,4.12)
(198.90,0.21)(199.06,0.56)(199.27,1.07)(199.65,1.55)(199.78,3.54)(200.02,2.67)(200.19,2.90)
(200.68,0.50)(200.70,0.42)(200.72,0.58)(200.74,0.45)(200.76,0.55)(200.78,0.40)(200.80,0.52)(200.82,0.47)(200.84,0.56)(200.69,0.16)(200.85,0.10)(200.53,1.10)
(201.37,4.40)(201.39,4.60)(201.41,4.20)(201.43,4.50)(201.45,4.30)(201.47,4.65)(201.49,4.15)(201.51,4.45)(201.53,4.35)(201.55,4.55)(201.57,4.25)(201.59,4.40)(201.61,4.10)(201.39,3.72)
(201.59,2.05)(201.61,1.90)(201.63,2.15)(201.65,1.95)(201.67,2.10)(201.69,1.85)(201.71,2.00)(201.73,2.18)(201.75,1.92)(201.77,2.05)(201.79,1.98)(201.59,1.54)(201.78,0.84)(201.80,2.95)
(201.79,4.45)(201.81,4.65)(201.83,4.25)(201.85,4.55)(201.87,4.35)(201.89,4.75)(201.91,4.20)(201.93,4.50)(201.95,4.40)(201.97,4.60)(201.99,4.15)(202.01,4.45)(202.03,4.30)(202.05,4.55)(202.07,4.25)(202.09,4.40)(202.11,4.50)(202.13,4.20)
(202.09,2.05)(202.11,1.90)(202.13,2.15)(202.15,2.00)(202.17,1.95)(202.19,2.10)(202.21,1.88)(202.23,2.05)(202.25,2.18)(202.27,1.95)(202.29,2.08)(202.31,1.92)(202.33,2.02)(202.11,1.38)(202.29,1.18)(202.30,2.70)
(202.31,4.45)(202.33,4.65)(202.35,4.30)(202.37,4.55)(202.39,4.40)(202.41,4.75)(202.43,4.25)(202.45,4.50)(202.47,4.60)(202.49,4.35)(202.51,4.45)(202.53,4.70)(202.55,4.30)(202.57,4.55)(202.59,4.40)(202.61,4.62)(202.63,4.25)(202.65,4.50)(202.67,4.35)
(202.61,2.00)(202.63,1.90)(202.65,2.10)(202.67,1.95)(202.69,2.05)(202.71,1.88)(202.73,2.12)(202.75,2.00)(202.77,1.93)(202.79,2.08)(202.81,2.15)(202.83,1.97)(202.85,2.02)(202.64,1.04)(202.81,1.30)(202.62,2.56)
(202.82,4.50)(202.84,4.70)(202.86,4.35)(202.88,4.60)(202.90,4.45)(202.92,4.85)(202.94,4.30)(202.96,4.55)(202.98,4.65)(203.00,4.40)(203.02,4.50)(203.04,4.75)(203.06,4.35)(203.08,4.60)(203.10,4.45)(203.12,4.25)(203.14,4.55)(203.16,4.40)(203.18,4.62)
(203.17,2.05)(203.19,1.90)(203.21,2.15)(203.23,1.95)(203.25,2.10)(203.27,1.85)(203.29,2.00)(203.31,2.18)(203.33,1.92)(203.35,2.05)(203.37,1.97)(203.39,2.10)
(203.14,3.18)(203.17,0.64)(203.34,1.47)(203.37,1.16)(203.50,2.21)
(203.39,4.65)(203.41,4.85)(203.43,4.50)(203.45,4.75)(203.47,4.60)(203.49,4.80)(203.51,4.45)(203.53,4.70)(203.44,4.40)
(204.29,2.05)(204.31,1.90)(204.33,2.12)(204.35,1.95)(204.37,2.08)(204.39,1.88)(204.41,2.15)(204.43,2.00)(204.45,1.93)(204.47,2.05)(204.44,1.44)(204.29,0.90)
(204.67,2.05)(204.69,1.92)(204.71,2.12)(204.73,1.97)(204.75,2.08)(204.77,1.90)(204.79,2.15)(204.81,2.00)(204.83,1.95)(204.85,2.05)(204.84,1.78)(204.69,0.52)
(205.07,2.00)(205.09,1.90)(205.11,2.15)(205.13,1.95)(205.15,2.08)(205.17,1.92)(205.19,2.12)(205.21,2.02)(205.23,1.88)(205.25,2.05)(205.08,0.02)(205.24,0.24)
(205.47,2.05)(205.49,1.90)(205.51,2.15)(205.53,1.95)(205.55,2.08)(205.57,1.85)(205.59,2.10)(205.61,1.98)(205.63,1.88)(205.65,2.03)(205.67,1.93)(205.48,1.46)(205.65,0.81)(205.83,1.52)
(205.80,4.40)(205.82,4.60)(205.84,4.25)(205.86,4.50)(205.88,4.35)(205.90,4.70)(205.92,4.20)(205.94,4.45)(205.96,4.30)(205.98,4.55)(206.00,4.15)(206.02,4.40)(206.04,4.60)(206.06,4.25)(206.08,4.45)(206.10,4.35)(206.12,4.08)(206.14,4.50)(206.16,4.30)(206.18,4.20)(206.16,2.98)
(206.87,4.45)(206.89,4.25)(206.91,4.60)(206.93,4.35)(206.95,4.15)(206.97,4.50)(206.99,4.30)(206.92,4.68)(206.89,1.30)
(207.27,4.35)(207.29,4.55)(207.31,4.20)(207.33,4.45)(207.35,4.65)(207.37,4.30)(207.39,4.10)(207.41,4.40)
(207.26,0.50)(207.39,0.35)(207.61,0.27)(207.72,0.58)
(207.60,4.50)(207.62,4.75)(207.64,4.40)(207.66,4.60)(207.68,4.35)(207.70,4.80)(207.72,4.45)(207.74,4.55)
(208.30,4.45)(208.32,4.60)(208.34,4.30)(208.36,4.50)(208.38,4.25)(208.40,4.55)(208.42,4.40)(208.44,4.65)(208.46,4.35)(208.48,4.50)(208.50,4.22)(208.52,4.45)(208.54,4.55)(208.56,4.30)(208.58,4.48)(208.60,4.40)(208.62,4.60)(208.64,4.35)(208.66,4.50)(208.68,4.42)(208.32,2.41)(208.65,2.98)
(209.51,4.50)(209.53,4.35)(209.55,4.65)(209.57,4.40)(209.59,4.55)(209.61,4.30)(209.63,4.45)(209.65,4.60)
(209.91,4.45)(209.93,4.70)(209.95,4.30)(209.97,4.55)(209.99,4.80)(210.01,4.40)(210.03,4.60)(210.05,4.25)(210.07,4.50)(210.09,4.75)(210.11,4.35)(210.13,4.65)(210.15,4.45)(210.17,4.85)(210.19,4.30)(210.21,4.55)(210.23,4.70)(210.25,4.40)(210.27,4.60)(210.29,4.50)(210.31,4.90)(210.33,4.35)(210.35,4.65)(210.37,4.55)(210.39,4.80)(210.41,4.45)(210.43,4.70)(210.45,4.30)(210.47,4.60)(210.49,4.85)(210.51,4.50)(210.53,4.40)(210.55,4.65)(210.57,4.55)(210.59,4.75)(210.61,4.45)(210.63,4.60)(210.65,4.35)(210.67,4.70)(210.69,4.50)(210.71,4.80)(210.73,4.55)(210.75,4.40)(210.77,4.65)(210.79,4.95)(210.81,4.50)(210.83,4.60)(210.85,4.35)(210.87,4.70)(210.89,4.55)(210.91,4.45)(210.93,4.75)(210.95,4.60)(210.97,4.40)(210.99,4.85)(211.01,4.50)(211.03,4.65)(211.05,4.30)(211.07,4.55)(211.09,4.70)(211.11,4.45)(211.13,4.60)(211.15,4.40)(211.17,4.25)(211.19,4.50)(211.21,4.35)(211.23,4.15)(211.00,5.05)(210.40,5.00)
(211.25,4.05)(211.27,3.95)(211.29,3.80)(211.31,3.90)(211.33,3.70)(211.35,3.60)(211.37,3.75)(211.39,3.50)(211.41,3.40)(211.43,3.55)(211.36,3.18)(211.38,3.30)(211.32,4.11)
(209.80,0.45)(209.82,0.35)(209.84,0.52)(209.86,0.38)(209.88,0.48)(209.90,0.42)(209.92,0.32)(209.85,0.44)
(209.79,0.16)(209.64,0.93)(210.05,1.07)(210.12,0.61)(210.36,3.00)(210.71,2.50)(210.67,1.35)(210.89,3.04)(210.95,2.04)(211.39,0.58)
(211.93,4.85)(211.95,5.05)(211.97,4.70)(211.99,4.95)(212.01,4.60)(212.03,4.80)(212.05,5.15)(212.07,4.75)(212.09,4.90)(212.11,4.55)(212.13,4.85)(212.15,4.65)(212.17,4.95)(212.19,4.50)(212.21,4.75)(212.23,4.40)(212.25,4.29)(212.41,4.99)(212.41,4.76)
(212.56,5.90)(212.57,5.50)(212.58,5.35)(212.59,5.20)(212.60,5.05)(212.61,4.90)(212.62,5.00)(212.63,4.80)(212.64,4.70)(212.65,4.95)(212.66,4.60)(212.67,4.85)(212.68,4.50)(212.65,5.25)
(212.67,3.75)(212.41,2.98)(212.39,2.00)(211.92,1.10)
};
\addlegendentry{CCD7 Slope: 0.0081\kern4.8bp}
\addplot[mpllime, line width=1.4bp, forget plot] coordinates {(180.46,3.64) (214.56,3.92)};
\end{axis}
\end{tikzpicture}
\end{document}
